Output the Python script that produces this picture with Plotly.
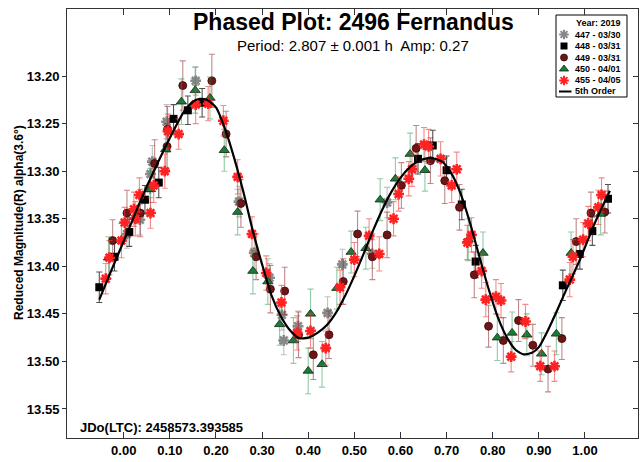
import plotly.graph_objects as go

# ---- data ----
s447_x = [0.007, 0.035, 0.057, 0.058, 0.062, 0.093, 0.156, 0.250, 0.283, 0.316, 0.343, 0.347, 0.378, 0.442, 0.474, 0.539, 0.571]
s447_y = [13.366, 13.351, 13.318, 13.303, 13.290, 13.248, 13.205, 13.332, 13.386, 13.412, 13.451, 13.478, 13.463, 13.449, 13.398, 13.387, 13.333]
s447_e = [0.015, 0.016, 0.015, 0.016, 0.017, 0.018, 0.015, 0.016, 0.017, 0.015, 0.016, 0.015, 0.016, 0.017, 0.016, 0.015, 0.016]

s448_x = [-0.053, -0.020, 0.012, 0.046, 0.076, 0.108, 0.139, 0.170, 0.638, 0.670, 0.700, 0.733, 0.763, 0.952, 0.989, 1.016, 1.050]
s448_y = [13.422, 13.390, 13.364, 13.330, 13.312, 13.245, 13.236, 13.228, 13.287, 13.273, 13.299, 13.335, 13.395, 13.420, 13.387, 13.363, 13.329]
s448_e = [0.016, 0.015, 0.015, 0.015, 0.016, 0.015, 0.015, 0.015, 0.016, 0.016, 0.015, 0.016, 0.017, 0.016, 0.016, 0.015, 0.015]

s449_x = [-0.024, 0.007, 0.036, 0.067, 0.094, 0.095, 0.128, 0.191, 0.222, 0.254, 0.287, 0.318, 0.349, 0.379, 0.411, 0.445, 0.476,
          0.507, 0.539, 0.571, 0.602, 0.634, 0.665, 0.696, 0.728, 0.760, 0.791, 0.823, 0.856, 0.887, 0.920, 0.950, 0.981, 1.013, 1.043]
s449_y = [13.373, 13.344, 13.344, 13.292, 13.274, 13.256, 13.210, 13.205, 13.261, 13.334, 13.390, 13.424, 13.426, 13.472, 13.493, 13.472, 13.416,
          13.366, 13.390, 13.367, 13.315, 13.276, 13.289, 13.310, 13.338, 13.409, 13.463, 13.478, 13.457, 13.483, 13.508, 13.476, 13.374, 13.344, 13.343]
s449_e = [0.022, 0.024, 0.025, 0.025, 0.024, 0.024, 0.026, 0.028, 0.024, 0.025, 0.024, 0.025, 0.025, 0.024, 0.026, 0.025, 0.024,
          0.024, 0.024, 0.024, 0.024, 0.024, 0.024, 0.024, 0.024, 0.024, 0.022, 0.024, 0.022, 0.022, 0.024, 0.022, 0.024, 0.022, 0.022]

s450_x = [-0.033, 0.058, 0.091, 0.125, 0.155, 0.187, 0.218, 0.247, 0.280, 0.3125, 0.338, 0.368, 0.400, 0.405, 0.430, 0.462, 0.493,
          0.525, 0.556, 0.589, 0.621, 0.653, 0.747, 0.779, 0.810, 0.842, 0.874, 0.906, 0.938, 0.970, 1.034]
s450_y = [13.391, 13.319, 13.277, 13.227, 13.215, 13.223, 13.278, 13.343, 13.405, 13.416, 13.461, 13.478, 13.510, 13.450, 13.503, 13.423, 13.385,
          13.381, 13.330, 13.308, 13.282, 13.299, 13.372, 13.386, 13.475, 13.470, 13.472, 13.492, 13.471, 13.386, 13.345]
s450_e = [0.022, 0.022, 0.022, 0.024, 0.024, 0.022, 0.022, 0.024, 0.024, 0.024, 0.022, 0.024, 0.024, 0.026, 0.024, 0.022, 0.022,
          0.022, 0.022, 0.022, 0.022, 0.022, 0.022, 0.022, 0.024, 0.022, 0.022, 0.022, 0.022, 0.022, 0.022]

s455_x = [-0.039, -0.031, -0.005, 0.002, 0.022, 0.025, 0.034, 0.058, 0.065, 0.089, 0.096, 0.119, 0.156, 0.183, 0.216, 0.247, 0.278,
          0.309, 0.342, 0.376, 0.405, 0.438, 0.469, 0.500, 0.532, 0.554, 0.585, 0.596, 0.618, 0.625, 0.651, 0.661, 0.687, 0.711,
          0.722, 0.745, 0.754, 0.776, 0.785, 0.807, 0.818, 0.840, 0.871, 0.903, 0.934, 0.967, 0.974, 0.996, 1.007, 1.029, 1.036]
s455_y = [13.413, 13.391, 13.373, 13.354, 13.340, 13.350, 13.325, 13.344, 13.315, 13.300, 13.258, 13.261, 13.230, 13.229, 13.247, 13.306, 13.366,
          13.407, 13.438, 13.470, 13.468, 13.486, 13.422, 13.393, 13.368, 13.387, 13.350, 13.324, 13.308, 13.298, 13.272, 13.274, 13.287, 13.315,
          13.298, 13.375, 13.367, 13.405, 13.435, 13.432, 13.436, 13.495, 13.458, 13.505, 13.505, 13.414, 13.390, 13.372, 13.355, 13.338, 13.325]
s455_e = [0.016, 0.018, 0.018, 0.016, 0.018, 0.018, 0.018, 0.016, 0.018, 0.018, 0.018, 0.016, 0.020, 0.018, 0.016, 0.018, 0.018,
          0.018, 0.018, 0.018, 0.018, 0.018, 0.018, 0.018, 0.018, 0.018, 0.018, 0.018, 0.018, 0.018, 0.018, 0.018, 0.018, 0.018,
          0.018, 0.018, 0.018, 0.018, 0.018, 0.018, 0.018, 0.016, 0.018, 0.016, 0.016, 0.018, 0.018, 0.018, 0.018, 0.018, 0.018]

# 5th-order fit curve
fit_x = [-0.053, -0.03, -0.01, 0.01, 0.04, 0.07, 0.10, 0.13, 0.15, 0.165, 0.18, 0.20, 0.22, 0.24, 0.26, 0.28,
         0.30, 0.32, 0.34, 0.36, 0.38, 0.40, 0.42, 0.44, 0.46, 0.48, 0.50, 0.52, 0.54, 0.56, 0.58, 0.60,
         0.62, 0.64, 0.665, 0.69, 0.71, 0.73, 0.75, 0.77, 0.79, 0.81, 0.83, 0.85, 0.867, 0.885, 0.90, 0.92,
         0.94, 0.96, 0.99, 1.02, 1.054]
fit_y = [13.435, 13.408, 13.385, 13.362, 13.327, 13.295, 13.265, 13.238, 13.227, 13.224, 13.225, 13.233, 13.256, 13.287, 13.323, 13.363,
         13.398, 13.430, 13.452, 13.467, 13.4755, 13.475, 13.470, 13.462, 13.449, 13.431, 13.410, 13.387, 13.363, 13.341, 13.322, 13.307,
         13.296, 13.289, 13.286, 13.290, 13.302, 13.323, 13.353, 13.388, 13.422, 13.452, 13.474, 13.488, 13.4926, 13.491, 13.485, 13.467,
         13.446, 13.424, 13.392, 13.356, 13.3206]

# highlighted (circled / boxed) points
ring_red_x = [0.002, 0.007]
ring_red_y = [13.354, 13.344]
ring_gray_x = [0.014]
ring_gray_y = [13.362]
box_red_x = [0.096]
box_red_y = [13.258]
box_green_x = [0.405]
box_green_y = [13.4496]
box_gray_x = [0.572]
box_gray_y = [13.333]

x_ticks = [0.0, 0.1, 0.2, 0.3, 0.4, 0.5, 0.6, 0.7, 0.8, 0.9, 1.0]
y_ticks = [13.20, 13.25, 13.30, 13.35, 13.40, 13.45, 13.50, 13.55]

legend_names = ["447 - 03/30", "448 - 03/31", "449 - 03/31", "450 - 04/01", "455 - 04/05"]

FONT = "Liberation Sans, Arial, sans-serif"

# ---- layout geometry (pixels) ----
W, H = 640, 462
PL, PR, PT, PB = 67, 638, 9, 438          # plot area box
def px(x):
    return (x - PL) / (PR - PL)
def py(y):
    return (PB - y) / (PB - PT)

# per-series styles
STY = [
    dict(symbol="asterisk", color="#888888", lw=2.6, size=9, ecolor="rgba(150,150,150,0.6)"),
    dict(symbol="square", color="#000000", lw=0, size=8, ecolor="rgba(40,40,40,0.8)"),
    dict(symbol="circle", color="#6e1515", lw=0.8, size=8, ecolor="rgba(140,40,40,0.55)", line="#3a0808"),
    dict(symbol="triangle-up", color="#1d7a3a", lw=0.8, size=9, ecolor="rgba(40,150,80,0.5)", line="#0a2a10"),
    dict(symbol="asterisk", color="#ff2222", lw=2.6, size=9, ecolor="rgba(240,60,60,0.6)"),
]

def mk(st, size=None, lw=None):
    return dict(symbol=st["symbol"], size=size or st["size"], color=st["color"],
                line=dict(color=st.get("line", st["color"]), width=st["lw"] if lw is None else lw))

fig = go.Figure()

series = [(s447_x, s447_y, s447_e), (s448_x, s448_y, s448_e), (s449_x, s449_y, s449_e),
          (s450_x, s450_y, s450_e), (s455_x, s455_y, s455_e)]
for (xs, ys, es), st, nm in zip(series, STY, legend_names):
    fig.add_trace(go.Scatter(
        x=xs, y=ys, mode="markers", name=nm, showlegend=False,
        marker=mk(st),
        error_y=dict(type="data", array=es, visible=True, color=st["ecolor"], thickness=1.1, width=3),
    ))

def add_ring(xs, ys, symbol, color):
    fig.add_trace(go.Scatter(x=xs, y=ys, mode="markers", showlegend=False, hoverinfo="skip",
                             marker=dict(symbol=symbol, size=14, color="rgba(0,0,0,0)",
                                         line=dict(color=color, width=1))))

add_ring(ring_red_x, ring_red_y, "circle-open", "rgba(230,60,60,0.8)")
add_ring(ring_gray_x, ring_gray_y, "circle-open", "rgba(120,120,120,0.8)")
add_ring(box_red_x, box_red_y, "square-open", "rgba(230,60,60,0.8)")
add_ring(box_green_x, box_green_y, "square-open", "rgba(30,120,60,0.8)")
add_ring(box_gray_x, box_gray_y, "square-open", "rgba(120,120,120,0.8)")

fig.add_trace(go.Scatter(x=fit_x, y=fit_y, mode="lines", name="5th Order", showlegend=False,
                         line=dict(color="black", width=2.2, shape="spline", smoothing=0.6)))

# right-side inside ticks
fig.add_trace(go.Scatter(x=[None], y=[None], yaxis="y2", showlegend=False, hoverinfo="skip"))

# ---- hand-drawn compact legend (keys on a pixel-space overlay axis) ----
LEG_L, LEG_R, LEG_T, LEG_B = 556, 627, 15, 97
row_y = [34.5, 46, 57.5, 69, 80.5]
key_x = 564
text_x = 573
for st, nm, ry in zip(STY, legend_names, row_y):
    fig.add_trace(go.Scatter(x=[key_x], y=[ry], xaxis="x2", yaxis="y3", mode="markers",
                             showlegend=False, hoverinfo="skip",
                             marker=mk(st, size=st["size"] - 1, lw=(2.0 if st["symbol"] == "asterisk" else None))))

shapes = [
    dict(type="rect", xref="paper", yref="paper", x0=px(LEG_L), x1=px(LEG_R), y0=py(LEG_B), y1=py(LEG_T),
         line=dict(color="black", width=1), fillcolor="white", layer="below"),
    dict(type="line", xref="paper", yref="paper", x0=px(559), x1=px(571.5), y0=py(91.5), y1=py(91.5),
         line=dict(color="black", width=2), layer="above"),
]

annotations = [
    dict(text="Phased Plot: 2496 Fernandus", x=px(353), y=py(22), xref="paper", yref="paper",
         xanchor="center", yanchor="middle", showarrow=False,
         font=dict(family=FONT, size=23, weight="bold", color="black")),
    dict(text="Period: 2.807 ± 0.001 h  Amp: 0.27", x=px(353), y=py(46), xref="paper", yref="paper",
         xanchor="center", yanchor="middle", showarrow=False,
         font=dict(family=FONT, size=15, color="black")),
    dict(text="JDo(LTC): 2458573.393585", x=px(78), y=py(427), xref="paper", yref="paper",
         xanchor="left", yanchor="middle", showarrow=False,
         font=dict(family=FONT, size=13, weight="bold", color="black")),
    dict(text="Reduced Magnitude(R) alpha(3.6°)", x=px(19), y=py(223), xref="paper", yref="paper",
         xanchor="center", yanchor="middle", showarrow=False, textangle=-90,
         font=dict(family=FONT, size=12, weight="bold", color="black")),
    dict(text="Year: 2019", x=px(623), y=py(23), xref="paper", yref="paper",
         xanchor="right", yanchor="middle", showarrow=False,
         font=dict(family=FONT, size=9, weight="bold", color="black")),
]
for nm, ry in zip(legend_names + ["5th Order"], row_y + [91.5]):
    annotations.append(dict(text=nm, x=px(text_x), y=py(ry), xref="paper", yref="paper",
                            xanchor="left", yanchor="middle", showarrow=False,
                            font=dict(family=FONT, size=9, weight="bold", color="black")))

x_range = [-0.123, 1.115]
y_range = [13.5805, 13.1295]

fig.update_layout(
    width=W, height=H,
    margin=dict(l=PL, r=W - PR, t=PT, b=H - PB, autoexpand=False),
    paper_bgcolor="white", plot_bgcolor="white",
    font=dict(family=FONT, color="black"),
    showlegend=False,
    xaxis=dict(
        range=x_range, tickvals=x_ticks, tickformat=".2f",
        ticks="inside", ticklen=6, tickcolor="#333", mirror="ticks",
        showline=True, linecolor="#333", linewidth=1,
        showgrid=False, zeroline=False,
        tickfont=dict(family=FONT, size=13, weight="bold", color="black"),
    ),
    yaxis=dict(
        range=y_range, tickvals=y_ticks, tickformat=".2f",
        ticks="outside", ticklen=4, tickcolor="#333", mirror=True,
        showline=True, linecolor="#333", linewidth=1,
        showgrid=False, zeroline=False,
        tickfont=dict(family=FONT, size=13, weight="bold", color="black"),
    ),
    yaxis2=dict(
        range=y_range, tickvals=y_ticks, overlaying="y", side="right", anchor="x",
        ticks="inside", ticklen=5, tickcolor="#333", showticklabels=False,
        showline=False, showgrid=False, zeroline=False,
    ),
    xaxis2=dict(range=[PL, PR], overlaying="x", visible=False, anchor="y3"),
    yaxis3=dict(range=[PB, PT], overlaying="y", visible=False, anchor="x2"),
    shapes=shapes,
    annotations=annotations,
)

fig.write_html("out.html", config={"displayModeBar": False},
               post_script="document.body.style.margin='0px';")
